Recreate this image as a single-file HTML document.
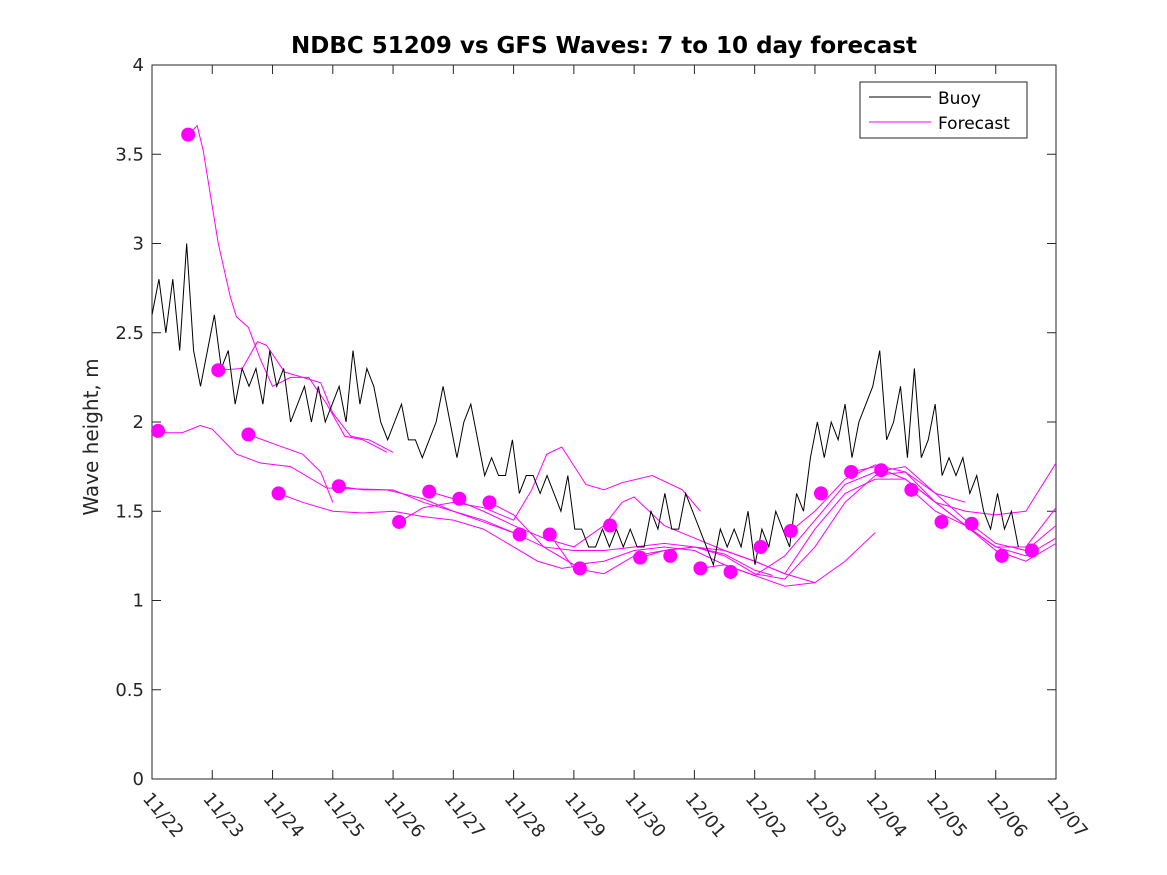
<!DOCTYPE html>
<html><head><meta charset="utf-8"><style>
body{margin:0;background:#fff;}
svg{display:block;font-family:"DejaVu Sans","Liberation Sans",sans-serif;}
</style></head><body>
<svg id="chart" width="1167" height="875" viewBox="0 0 1167 875" xmlns="http://www.w3.org/2000/svg">
<rect width="1167" height="875" fill="#fff"/>
<text x="604" y="53" text-anchor="middle" font-size="23" font-weight="bold" fill="#000">NDBC 51209 vs GFS Waves: 7 to 10 day forecast</text>
<text transform="translate(98,437) rotate(-90)" text-anchor="middle" font-size="20" fill="#262626">Wave height, m</text>
<g id="axes"></g>
<g id="plot"></g>
<g>
<rect x="860" y="82" width="167" height="56" fill="#fff" stroke="#262626" stroke-width="1"/>
<line x1="869" y1="97" x2="931" y2="97" stroke="#000" stroke-width="1"/>
<text x="938" y="104" font-size="17" fill="#000">Buoy</text>
<line x1="869" y1="122" x2="931" y2="122" stroke="#ff00ff" stroke-width="1"/>
<text x="938" y="129" font-size="17" fill="#000">Forecast</text>
</g>
</svg>
<script>
const xTickLabels=["11/22","11/23","11/24","11/25","11/26","11/27","11/28","11/29","11/30","12/01","12/02","12/03","12/04","12/05","12/06","12/07"];
const yTickLabels=["0","0.5","1","1.5","2","2.5","3","3.5","4"];
const yTickValues=[0,0.5,1,1.5,2,2.5,3,3.5,4];
const buoyStep=0.115;
const buoyValues=[2.6,2.8,2.5,2.8,2.4,3.0,2.4,2.2,
2.4,2.6,2.3,2.4,2.1,2.3,2.2,2.3,
2.1,2.4,2.2,2.3,2.0,2.1,2.2,2.0,
2.2,2.0,2.1,2.2,2.0,2.4,2.1,2.3,
2.2,2.0,1.9,2.0,2.1,1.9,1.9,1.8,
1.9,2.0,2.2,2.0,1.8,2.0,2.1,1.9,
1.7,1.8,1.7,1.7,1.9,1.6,1.7,1.7,
1.6,1.7,1.6,1.5,1.7,1.4,1.4,1.3,
1.3,1.4,1.3,1.4,1.3,1.4,1.3,1.3,
1.5,1.4,1.6,1.4,1.4,1.6,1.5,1.4,
1.3,1.2,1.4,1.3,1.4,1.3,1.5,1.2,
1.4,1.3,1.5,1.4,1.3,1.6,1.5,1.8,
2.0,1.8,2.0,1.9,2.1,1.8,2.0,2.1,
2.2,2.4,1.9,2.0,2.2,1.8,2.3,1.8,
1.9,2.1,1.7,1.8,1.7,1.8,1.6,1.7,
1.5,1.4,1.6,1.4,1.5,1.3];
const dotDays=[0.1,0.6,1.1,1.6,2.1,3.1,4.1,4.6,5.1,5.6,6.1,6.6,7.1,7.6,8.1,8.6,9.1,9.6,10.1,10.6,11.1,11.6,12.1,12.6,13.1,13.6,14.1,14.6];
const dotValues=[1.95,3.61,2.29,1.93,1.60,1.64,1.44,1.61,1.57,1.55,1.37,1.37,1.18,1.42,1.24,1.25,1.18,1.16,1.30,1.39,1.60,1.72,1.73,1.62,1.44,1.43,1.25,1.28];
const fcDays=[
[0,0.5,0.8,1.0,1.4,1.8,2.3,2.9,3.9,4.5,5.0,5.5,6.0],
[0.6,0.75,0.85,1.1,1.3,1.4,1.6,1.8,2.0,2.3,2.6,2.9,3.2,3.5,3.9],
[1.1,1.5,1.75,1.9,2.2,2.5,2.8,3.0,3.3,3.6,4.0],
[1.6,2.0,2.5,2.8,3.0],
[2.1,2.5,3.0,3.5,4.0,4.5,5.0,5.5,6.0,6.4,6.8,7.2],
[3.1,3.5,4.0,4.5,5.0,5.5,6.0,6.5,7.0,7.5,8.0,8.5,9.0,9.5,10.0,10.3],
[4.1,4.5,5.0,5.5,6.0,6.3,6.55,6.8,7.2,7.5,7.8,8.3,8.8,9.1],
[4.6,5.0,5.5,6.0,6.5,7.0,7.5,7.8,8.0,8.5,9.0,9.5,10.0,10.5,11.0],
[5.6,6.0,6.5,7.0,7.5,8.0,8.5,9.0,9.5,10.0,10.5,11.0,11.5,12.0],
[6.6,7.0,7.5,8.0,8.5,9.0,9.5,10.0,10.5,11.0,11.5,12.0,12.5,13.0,13.5],
[8.1,8.5,9.0,9.5,10.0,10.5,11.0,11.5,12.0,12.5,13.0,13.5,14.0,14.5,15.0],
[9.1,9.5,10.0,10.5,11.0,11.5,12.0,12.5,13.0,13.5,14.0,14.5,15.0],
[10.6,11.0,11.5,12.0,12.5,13.0,13.5,14.0,14.5,15.0],
[11.6,12.0,12.5,13.0,13.5,14.0,14.5,15.0],
[12.6,13.0,13.5,14.0,14.5,15.0]];
const fcValues=[
[1.94,1.94,1.98,1.96,1.82,1.77,1.75,1.63,1.62,1.57,1.50,1.44,1.38],
[3.61,3.66,3.52,3.0,2.7,2.59,2.53,2.35,2.2,2.25,2.25,2.1,1.92,1.90,1.83],
[2.29,2.3,2.45,2.43,2.28,2.25,2.22,2.05,1.92,1.90,1.83],
[1.93,1.88,1.82,1.72,1.55],
[1.60,1.55,1.50,1.49,1.50,1.47,1.45,1.40,1.30,1.22,1.18,1.20],
[1.64,1.62,1.62,1.55,1.50,1.45,1.38,1.30,1.28,1.28,1.30,1.32,1.30,1.26,1.17,1.14],
[1.44,1.52,1.55,1.52,1.45,1.62,1.82,1.86,1.65,1.62,1.66,1.70,1.62,1.50],
[1.61,1.57,1.50,1.42,1.35,1.30,1.42,1.55,1.58,1.42,1.35,1.28,1.22,1.15,1.10],
[1.55,1.48,1.30,1.20,1.22,1.28,1.30,1.28,1.20,1.14,1.08,1.10,1.22,1.38],
[1.37,1.18,1.15,1.25,1.28,1.30,1.25,1.15,1.12,1.30,1.55,1.70,1.72,1.60,1.55],
[1.24,1.28,1.30,1.28,1.22,1.15,1.40,1.60,1.68,1.68,1.55,1.42,1.30,1.25,1.35],
[1.18,1.20,1.14,1.25,1.45,1.65,1.72,1.75,1.60,1.45,1.32,1.28,1.42],
[1.39,1.50,1.68,1.76,1.72,1.55,1.42,1.28,1.22,1.32],
[1.72,1.75,1.68,1.55,1.50,1.48,1.50,1.77],
[1.62,1.50,1.42,1.30,1.30,1.52]];

const NS="http://www.w3.org/2000/svg";
const L=152,R=1056,T=65,B=779;
const xS=d=>L+(R-L)*d/15;
const yS=v=>B-(B-T)*v/4;
const axes=document.getElementById('axes'),plot=document.getElementById('plot');
function mk(tag,attrs,parent){const e=document.createElementNS(NS,tag);for(const k in attrs)e.setAttribute(k,attrs[k]);parent.appendChild(e);return e;}
const box=mk('rect',{x:L,y:T,width:R-L,height:B-T,fill:'none',stroke:'#262626','stroke-width':1},axes);


xTickLabels.forEach((lab,i)=>{
  const x=xS(i);
  mk('line',{x1:x,y1:B,x2:x,y2:B-9,stroke:'#262626'},axes);
  mk('line',{x1:x,y1:T,x2:x,y2:T+9,stroke:'#262626'},axes);
  const t=mk('text',{x:x-10,y:B+20,'font-size':18,fill:'#262626',transform:`rotate(50 ${x-10} ${B+20})`},axes);
  t.textContent=lab;
  
  
});
yTickValues.forEach((v,i)=>{
  const y=yS(v);
  mk('line',{x1:L,y1:y,x2:L+9,y2:y,stroke:'#262626'},axes);
  mk('line',{x1:R,y1:y,x2:R-9,y2:y,stroke:'#262626'},axes);
  const t=mk('text',{x:L-8,y:y+6,'font-size':18,fill:'#262626','text-anchor':'end'},axes);
  t.textContent=yTickLabels[i];
  
  
});
fcDays.forEach((ds,j)=>{
  const p=mk('polyline',{points:ds.map((d,k)=>xS(d)+','+yS(fcValues[j][k])).join(' '),fill:'none',stroke:'#ff00ff','stroke-width':1},plot);
  
  
});
let pts=[];
buoyValues.forEach((v,i)=>{pts.push(xS(i*buoyStep)+','+yS(v));});
const bl=mk('polyline',{points:pts.join(' '),fill:'none',stroke:'#000','stroke-width':1},plot);


dotDays.forEach((d,i)=>{
  const c=mk('circle',{cx:xS(d),cy:yS(dotValues[i]),r:7,fill:'#ff00ff'},plot);
  
  
});
</script>
</body></html>
